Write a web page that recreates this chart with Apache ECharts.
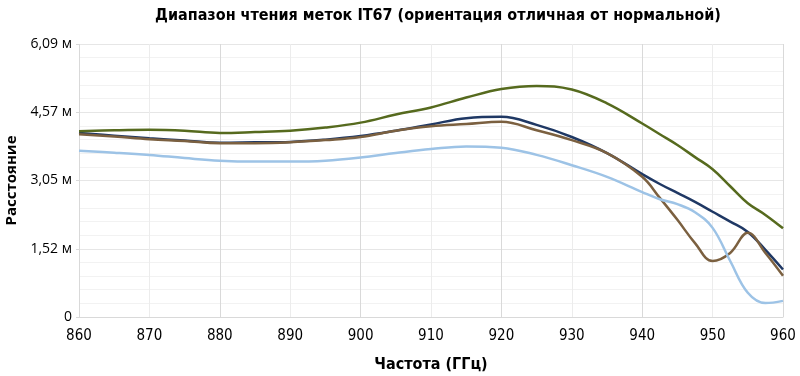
<!DOCTYPE html>
<html>
<head>
<meta charset="utf-8">
<script src="https://cdn.jsdelivr.net/npm/echarts@6/dist/echarts.min.js"></script>
<style>
  html, body { margin: 0; padding: 0; background: #fff; }
  #chart { width: 800px; height: 376px; }
</style>
</head>
<body>
<div id="chart"></div>
<script>
  // частоты, МГц (ось подписана как ГГц в оригинале)
  const freqs = [860, 865, 870, 875, 880, 885, 890, 895, 900, 905, 910, 915, 920, 925, 930, 935, 940, 942.5, 945, 947.5, 950, 952.5, 955, 957.5, 960]
  // расстояние, м
  const navy = [4.11, 4.05, 3.99, 3.94, 3.89, 3.90, 3.91, 3.96, 4.04, 4.16, 4.30, 4.44, 4.47, 4.29, 4.02, 3.66, 3.19, 2.97, 2.77, 2.57, 2.35, 2.13, 1.90, 1.50, 1.06]
  const brown = [4.08, 4.03, 3.97, 3.93, 3.88, 3.88, 3.90, 3.95, 4.02, 4.16, 4.26, 4.31, 4.36, 4.17, 3.95, 3.66, 3.13, 2.66, 2.17, 1.65, 1.25, 1.43, 1.88, 1.43, 0.92]
  const olive = [4.15, 4.17, 4.18, 4.16, 4.11, 4.13, 4.16, 4.23, 4.34, 4.52, 4.68, 4.90, 5.09, 5.16, 5.08, 4.77, 4.32, 4.08, 3.84, 3.57, 3.30, 2.92, 2.54, 2.28, 1.98]
  const lightBlue = [3.71, 3.67, 3.62, 3.55, 3.49, 3.47, 3.47, 3.49, 3.56, 3.66, 3.75, 3.81, 3.78, 3.62, 3.39, 3.13, 2.79, 2.63, 2.52, 2.34, 1.99, 1.25, 0.54, 0.31, 0.36]
  const yTickLabels = ['0', '1,52 м', '3,05 м', '4,57 м', '6,09 м']
  const yStep = 1.524

  const narrow = "'Liberation Sans Narrow', 'DejaVu Sans Condensed', sans-serif"

  function pairs(vals) {
    return vals.map((v, i) => [freqs[i], v])
  }

  function line(name, color, vals) {
    return {
      name: name,
      type: 'line',
      smooth: 0.4,
      symbol: 'none',
      lineStyle: { color: color, width: 2.5 },
      data: pairs(vals)
    }
  }

  const myChart = echarts.init(document.getElementById('chart'))
  const option = {
    animation: false,
    title: {
      text: 'Диапазон чтения меток IT67 (ориентация отличная от нормальной)',
      left: 433,
      textAlign: 'center',
      top: 3,
      textStyle: { fontFamily: narrow, fontSize: 16, fontWeight: 'bold', color: '#000' }
    },
    grid: { left: 79, right: 17, top: 44, bottom: 59, outerBoundsMode: 'none' },
    xAxis: {
      type: 'value',
      min: 860,
      max: 960,
      interval: 10,
      name: 'Частота (ГГц)',
      nameLocation: 'middle',
      nameGap: 40,
      nameTextStyle: { fontFamily: narrow, fontSize: 16, fontWeight: 'bold', color: '#000' },
      axisLine: { show: true, lineStyle: { color: '#d9d9d9' } },
      axisTick: { show: false },
      axisLabel: { fontFamily: narrow, fontSize: 15, color: '#000', margin: 12 },
      splitLine: { show: true, lineStyle: { color: ['#d9d9d9', '#ececec'], width: 1 } }
    },
    yAxis: {
      type: 'value',
      min: 0,
      max: yStep * 4,
      interval: yStep,
      name: 'Расстояние',
      nameLocation: 'middle',
      nameRotate: 90,
      nameGap: 58,
      nameTextStyle: { fontFamily: "'Open Sans', sans-serif", fontSize: 15, fontWeight: 'bold', color: '#000' },
      axisLine: { show: false },
      axisTick: { show: true, length: 3, lineStyle: { color: '#d9d9d9' } },
      axisLabel: {
        fontFamily: "'Open Sans', sans-serif",
        fontSize: 14,
        color: '#000',
        margin: 7,
        formatter: (v) => yTickLabels[Math.round(v / yStep)]
      },
      splitLine: { show: true, lineStyle: { color: '#e6e6e6' } },
      minorTick: { show: false, splitNumber: 5 },
      minorSplitLine: { show: true, lineStyle: { color: '#f2f2f2' } }
    },
    series: [
      line('navy', '#1f3864', navy),
      line('brown', '#7b6040', brown),
      line('olive', '#566a1e', olive),
      line('lightBlue', '#9dc3e6', lightBlue)
    ]
  }
  myChart.setOption(option)
</script>
</body>
</html>
